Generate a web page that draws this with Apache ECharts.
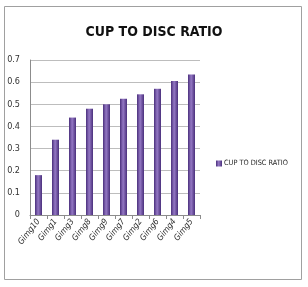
<!DOCTYPE html>
<html><head><meta charset="utf-8">
<script src="https://cdn.jsdelivr.net/npm/echarts@6/dist/echarts.min.js"></script>
<style>html,body{margin:0;padding:0;background:#fff}#c{width:308px;height:287px}</style>
</head><body><div id="c"></div>
<script>
const categories = ['Gimg10','Gimg1','Gimg3','Gimg8','Gimg9','Gimg7','Gimg2','Gimg6','Gimg4','Gimg5'];
const ratios = [0.18,0.34,0.44,0.48,0.50,0.525,0.545,0.57,0.605,0.635];
const yTicks = [0,0.1,0.2,0.3,0.4,0.5,0.6,0.7];
const seriesName = 'CUP TO DISC RATIO';

const chart = echarts.init(document.getElementById('c'));
const barColor = new echarts.graphic.LinearGradient(0,0,1,0,[
  {offset:0,color:'#4a2f7c'},{offset:0.45,color:'#9478c4'},{offset:1,color:'#4a2f7c'}]);
const F = 'DejaVu Sans Condensed';
chart.setOption({
  animation:false,
  title:{text:'CUP TO DISC RATIO',left:'center',top:20,
    textStyle:{fontFamily:F,fontSize:14,fontWeight:'bold',color:'#111'}},
  graphic:[{type:'rect',shape:{x:4.5,y:6.5,width:297,height:273},
    style:{fill:'none',stroke:'#a0a0a0',lineWidth:1}}],
  legend:{data:[seriesName],left:211,top:155,itemWidth:6,itemHeight:6,itemGap:2,
    icon:'rect',textStyle:{fontFamily:F,fontSize:7.3,color:'#222',padding:[0,0,0,-3]}},
  grid:{left:30,right:108,top:60,bottom:72,containLabel:false},
  xAxis:{type:'category',data:categories,
    axisLine:{lineStyle:{color:'#8c8c8c'}},
    axisTick:{show:true,length:4,lineStyle:{color:'#8c8c8c'}},
    axisLabel:{rotate:52,fontFamily:F,fontStyle:'italic',fontSize:8.5,color:'#333',margin:5}},
  yAxis:{type:'value',min:0,max:0.7,interval:0.1,
    axisLine:{show:true,lineStyle:{color:'#8c8c8c'}},
    axisTick:{show:false},
    splitLine:{lineStyle:{color:'#bdbdbd'}},
    axisLabel:{fontFamily:F,fontSize:9,color:'#333',margin:10,
      formatter:v=>{const t=yTicks.find(x=>Math.abs(x-v)<1e-9);return t===undefined?'':String(t);}}},
  series:[{name:seriesName,type:'bar',data:ratios,barWidth:7,
    itemStyle:{color:barColor}}]
});
</script></body></html>
